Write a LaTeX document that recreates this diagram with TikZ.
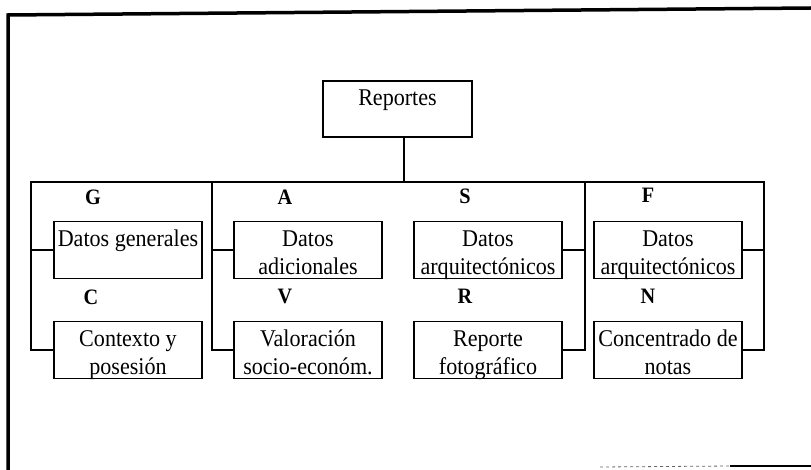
\documentclass[tikz,border=0pt]{standalone}
\usepackage{fontspec}
\setmainfont{Liberation Serif}[FakeStretch=0.92]

\tikzset{
  caja/.style={draw, line width=1.4pt, inner sep=0pt, font=\fontsize{24}{28}\selectfont},
  letra/.style={font=\fontsize{22}{24}\selectfont\bfseries, anchor=base},
  linea/.style={line width=1.4pt},
  marco/.style={line width=3.5pt},
}
\newcommand{\texcaja}[2][148pt]{\parbox[t][57pt][t]{#1}{\centering\rule{0pt}{25pt}#2}}

\begin{document}
\begin{tikzpicture}[x=1pt, y=-1pt]
    \useasboundingbox (0,0) rectangle (811,470);
    \def\fa{250} % fila de arriba
    \def\fb{350} % fila de abajo
    \draw[marco] (8,470) -- (8,15) -- (811,8); % marco
    \draw[line width=2pt] (730,466) -- (811,466);
    \draw[line width=0.8pt, dashed, black!60] (600,467) -- (730,466);

    \node (rep) at (397.5,109) [caja] {\parbox[t][56pt][t]{149pt}{\centering\rule{0pt}{25pt}Reportes}};

    \node (gen) at (128,\fa) [caja] {\texcaja{Datos generales}};
    \node (ctx) at (128,\fb) [caja] {\texcaja{Contexto y\\posesión}};
    \node (adi) at (308,\fa) [caja] {\texcaja{Datos\\adicionales}};
    \node (val) at (308,\fb) [caja] {\texcaja{Valoración\\socio-económ.}};
    \node (arq) at (488,\fa) [caja] {\texcaja{Datos\\arquitectónicos}};
    \node (fot) at (488,\fb) [caja] {\texcaja{Reporte\\fotográfico}};
    \node (arf) at (668,\fa) [caja] {\texcaja{Datos\\arquitectónicos}};
    \node (not) at (668,\fb) [caja] {\texcaja{Concentrado de\\notas}};

    % letras
    \node (g) at (93,205) [letra] {G};
    \node (a) at (285,205) [letra] {A};
    \node (s) at (465,204) [letra] {S};
    \node (f) at (648,203) [letra] {F};
    \node (c) at (91,305) [letra] {C};
    \node (v) at (285,304) [letra] {V};
    \node (r) at (465,304) [letra] {R};
    \node (n) at (648,303) [letra] {N};

    % conexiones
    \coordinate (bi) at (31,182);
    \coordinate (b2) at (212,182);
    \coordinate (b3) at (585,182);
    \coordinate (bd) at (764,182);
    \draw[linea] ([xshift=6.5pt]rep.south) -- ([xshift=6.5pt]rep.south |- bi);
    \draw[linea] (gen.west) -| (bi) -- (bd) |- (arf.east);
    \draw[linea] (ctx.west) -| (bi);
    \draw[linea] (adi.west) -| (b2);
    \draw[linea] (val.west) -| (b2);
    \draw[linea] (arq.east) -| (b3);
    \draw[linea] (fot.east) -| (b3);
    \draw[linea] (not.east) -| (bd);
\end{tikzpicture}
\end{document}
